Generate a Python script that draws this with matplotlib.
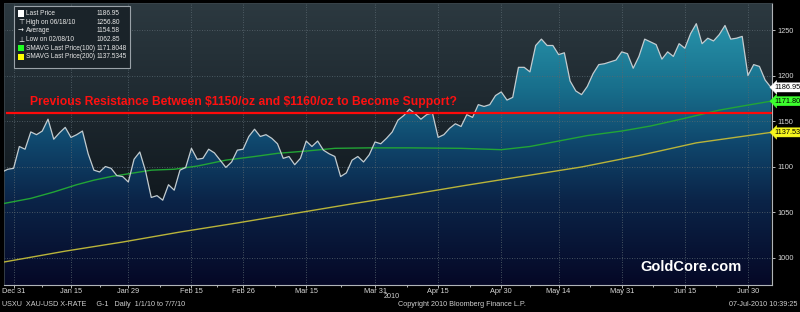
import numpy as np
import pandas as pd
import matplotlib
matplotlib.use("Agg")
import matplotlib.pyplot as plt
from matplotlib.colors import LinearSegmentedColormap
from matplotlib.patches import Polygon, Rectangle

plt.rcParams['font.family'] = ['Liberation Sans', 'DejaVu Sans']

# trading days shown on the chart (Bloomberg skips Jan 1 and Jul 5)
days = pd.bdate_range("2009-12-29", "2010-07-07")
days = days[~days.isin(pd.to_datetime(["2010-01-01", "2010-07-05"]))]

# XAU-USD daily close
price = [1094, 1097, 1098, 1122, 1119, 1138, 1135, 1139, 1152, 1130,
         1137, 1143, 1132, 1135, 1139, 1114, 1096, 1094, 1100, 1098,
         1090, 1089, 1083, 1108, 1116, 1095, 1066, 1068, 1063, 1080,
         1074, 1096, 1099, 1120, 1108, 1109, 1119, 1115, 1107, 1099,
         1105, 1118, 1119, 1133, 1141, 1133, 1135, 1131, 1125, 1109,
         1111, 1102, 1109, 1128, 1122, 1128, 1118, 1114, 1111, 1089,
         1093, 1107, 1111, 1105, 1113, 1127, 1125, 1131, 1138, 1151,
         1156, 1163, 1158, 1152, 1157, 1159, 1132, 1135, 1142, 1147,
         1144, 1157, 1154, 1168, 1166, 1168, 1178, 1182, 1173, 1176,
         1209, 1209, 1204, 1233, 1240, 1233, 1233, 1223, 1225, 1194,
         1183, 1179, 1188, 1202, 1212, 1213, 1215, 1217, 1226, 1224,
         1208, 1221, 1240, 1237, 1234, 1218, 1226, 1221, 1235, 1230,
         1246, 1257, 1235, 1241, 1238, 1245, 1255, 1240, 1241, 1243,
         1200, 1212, 1210, 1195, 1187]

# moving averages, sampled along the lines
ma100_days = ["2009-12-29", "2010-01-06", "2010-01-12", "2010-01-18", "2010-01-21",
              "2010-01-26", "2010-01-29", "2010-02-04", "2010-02-10", "2010-02-16",
              "2010-02-23", "2010-03-02", "2010-03-08", "2010-03-15", "2010-03-22",
              "2010-03-30", "2010-04-08", "2010-04-21", "2010-04-30", "2010-05-07",
              "2010-05-14", "2010-05-21", "2010-05-31", "2010-06-07", "2010-06-15",
              "2010-06-23", "2010-06-30", "2010-07-07"]
ma100 = [1059, 1065, 1072, 1080, 1085, 1089, 1092, 1096, 1097, 1100.5,
         1107, 1111, 1114.5, 1117, 1120, 1120.5, 1120.5, 1120, 1118.5, 1122,
         1128, 1134, 1139, 1144.5, 1153, 1162, 1167.5, 1171.8]

ma200_days = ["2009-12-29", "2010-01-14", "2010-01-28", "2010-02-11", "2010-02-25",
              "2010-03-11", "2010-03-25", "2010-04-08", "2010-04-22", "2010-05-06",
              "2010-05-20", "2010-06-03", "2010-06-17", "2010-07-07"]
ma200 = [994.7, 1007, 1017, 1028, 1038, 1048.5, 1059, 1069, 1079.5, 1089.5,
         1099.5, 1112, 1126, 1137.5]

tick_days = ["2009-12-31", "2010-01-15", "2010-01-29", "2010-02-15", "2010-02-26",
             "2010-03-15", "2010-03-31", "2010-04-15", "2010-04-30", "2010-05-14",
             "2010-05-31", "2010-06-15", "2010-06-30"]
tick_labels = ["Dec 31", "Jan 15", "Jan 29", "Feb 15", "Feb 26", "Mar 15", "Mar 31",
               "Apr 15", "Apr 30", "May 14", "May 31", "Jun 15", "Jun 30"]
y_ticks = [1000, 1050, 1100, 1150, 1200, 1250]

legend_names = ["Last Price", "High on 06/18/10", "Average", "Low on 02/08/10",
                "SMAVG Last Price(100)", "SMAVG Last Price(200)"]
legend_values = ["1186.95", "1256.80", "1154.58", "1062.85", "1171.8048", "1137.5345"]

resistance = 1159


def pos(d):
    return days.get_loc(pd.Timestamp(d)) - 2


x = np.arange(len(price)) - 2
x100 = [pos(d) for d in ma100_days]
x200 = [pos(d) for d in ma200_days]
xt = [pos(d) for d in tick_days]

fig = plt.figure(figsize=(8, 3.12), dpi=100, facecolor="black")
ax = fig.add_axes([4 / 800, 27 / 312, 767.7 / 800, 282 / 312])
ax.set_facecolor("#10161b")

x0, x1 = -1.67, 132.14
y0, y1 = 969.8, 1279.7
ax.set_xlim(x0, x1)
ax.set_ylim(y0, y1)

grad = np.linspace(0, 1, 256).reshape(-1, 1)

# background above the curve
bg_cmap = LinearSegmentedColormap.from_list(
    "bg", ["#0a0d11", "#121a20", "#1f2a31", "#2c3940"])
ax.imshow(grad, extent=[x0, x1, y0, y1], origin="lower", aspect="auto",
          cmap=bg_cmap, zorder=0)

# gradient fill under the price
fill_cmap = LinearSegmentedColormap.from_list(
    "fill", [(0.0, "#050826"), (0.3, "#0b2448"), (0.5, "#0f466c"),
             (0.7, "#186f8c"), (0.9, "#258ea6"), (1.0, "#2e9cb2")])
im = ax.imshow(grad, extent=[x0, x1, y0, y1], origin="lower", aspect="auto",
               cmap=fill_cmap, zorder=1)
verts = np.column_stack([np.r_[x, x[-1], x[0]], np.r_[price, y0, y0]])
clip = Polygon(verts, closed=True, transform=ax.transData, facecolor="none",
               edgecolor="none")
ax.add_patch(clip)
im.set_clip_path(clip)

# grid
for t in xt:
    ax.axvline(t, color="#5a6870", lw=0.6, ls=(0, (1, 2)), zorder=2)
for t in y_ticks:
    ax.axhline(t, color="#5a6870", lw=0.6, ls=(0, (1, 2)), zorder=2)

ax.plot(x200, ma200, color="#b9b43a", lw=1.0, zorder=3)
ax.plot(x100, ma100, color="#22a536", lw=1.0, zorder=3)
ax.plot(x, price, color="#c3ccd0", lw=0.9, zorder=4)

ax.axhline(resistance, xmin=0.004, color="#ff0a0a", lw=1.6, zorder=5)
ax.text(26 / 767.7 * (x1 - x0) + x0, 1171,
        "Previous Resistance Between \\$1150/oz and \\$1160/oz to Become Support?",
        color="#ff1010", fontsize=8.7, fontweight="bold", va="center", zorder=6)

ax.text(0.895, 0.064, "GoldCore.com", transform=ax.transAxes, color="white",
        fontsize=10.5, fontweight="bold", ha="center", va="center", zorder=6)

# axes styling
ax.yaxis.tick_right()
ax.set_yticks(y_ticks)
ax.set_yticklabels([str(v) for v in y_ticks])
ax.set_xticks(xt)
ax.set_xticklabels(tick_labels)
mids = [(a + b) / 2 for a, b in zip(xt[:-1], xt[1:])]
ax.set_xticks(mids, minor=True)
ax.tick_params(axis="y", colors="#d8d8d8", labelsize=5.3, length=2.5,
               width=0.6, pad=1.5)
ax.tick_params(axis="x", colors="#d8d8d8", labelsize=5.3, length=2,
               width=0.6, pad=0.3)
ax.tick_params(axis="x", which="minor", colors="#d8d8d8", length=1.5, width=0.6)
for side in ["bottom", "right"]:
    ax.spines[side].set_color("#b0b4b8")
    ax.spines[side].set_linewidth(0.8)
for side in ["top", "left"]:
    ax.spines[side].set_color("#3a444a")
    ax.spines[side].set_linewidth(0.6)

# value tags on the right axis
tags = [(1186.95, "1186.95", "white"), (1171.80, "1171.80", "#3cff2e"),
        (1137.53, "1137.53", "#f5f51e")]
for v, s, c in tags:
    ax.text(1.004, v, s, transform=ax.get_yaxis_transform(), fontsize=5.3,
            color="black", va="center", ha="left", zorder=7, clip_on=False,
            bbox=dict(boxstyle="larrow,pad=0.15", fc=c, ec=c, lw=0.3))

# legend box
lx0, ly0, lw_, lh_ = 14 / 800, 1 - 68 / 312, 116 / 800, 62 / 312
fig.patches.append(Rectangle((lx0, ly0), lw_, lh_, transform=fig.transFigure,
                             facecolor="#1a2329", edgecolor="#9aa2a8", lw=0.8,
                             zorder=10))
icon_colors = ["white", None, None, None, "#22ff22", "#ffff00"]
icon_marks = [None, "\u22a4", "\u2192", "\u22a5", None, None]
for i, (name, val) in enumerate(zip(legend_names, legend_values)):
    yy = 1 - (13.5 + i * 8.7) / 312
    if icon_colors[i]:
        fig.patches.append(Rectangle((18 / 800, yy - 3 / 312), 6 / 800, 6 / 312,
                                     transform=fig.transFigure,
                                     facecolor=icon_colors[i], edgecolor="none",
                                     zorder=11))
    else:
        fig.text(21 / 800, yy, icon_marks[i], color="white", fontsize=5,
                 ha="center", va="center", zorder=11, family="DejaVu Sans")
    fig.text(25.5 / 800, yy, name, color="#e8e8e8", fontsize=4.7, va="center",
             zorder=11)
    fig.text(97 / 800, yy, val, color="#e8e8e8", fontsize=4.7, va="center",
             zorder=11)

# footer
fig.text(2 / 800, 8 / 312,
         "USXU  XAU-USD X-RATE     G-1   Daily  1/1/10 to 7/7/10",
         color="#cfcfcf", fontsize=5.2, va="center")
fig.text(398 / 800, 8 / 312, "Copyright 2010 Bloomberg Finance L.P.",
         color="#cfcfcf", fontsize=5.2, va="center")
fig.text(797 / 800, 8 / 312, "07-Jul-2010 10:39:25", color="#cfcfcf",
         fontsize=5.2, va="center", ha="right")
fig.text(392 / 800, 15 / 312, "2010", color="#cfcfcf", fontsize=5.2,
         va="center", ha="center")

fig.savefig("out.png", dpi=100, facecolor="black")
